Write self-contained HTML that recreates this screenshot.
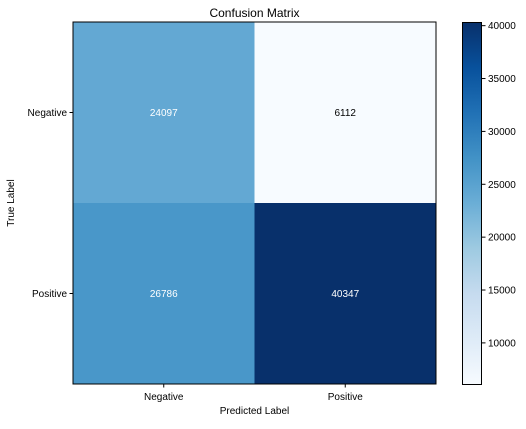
<!DOCTYPE html>
<html><head><meta charset="utf-8"><style>
html,body{margin:0;padding:0;background:#fff;}
svg text{font-family:"Liberation Sans",sans-serif;}
</style></head><body>
<svg id="chart" width="526" height="424" xmlns="http://www.w3.org/2000/svg">
<defs><linearGradient id="cbg" x1="0" y1="1" x2="0" y2="0">
<stop offset="0" stop-color="#f7fbff"/><stop offset="0.125" stop-color="#deebf7"/><stop offset="0.25" stop-color="#c6dbef"/><stop offset="0.375" stop-color="#9ecae1"/><stop offset="0.5" stop-color="#6baed6"/><stop offset="0.625" stop-color="#4292c6"/><stop offset="0.75" stop-color="#2171b5"/><stop offset="0.875" stop-color="#08519c"/><stop offset="1" stop-color="#08306b"/>
</linearGradient></defs>
<text x="254.5" y="17" font-size="12" text-anchor="middle" fill="#000">Confusion Matrix</text>
<g id="cells"></g>
<rect x="73" y="22" width="363" height="362" fill="none" stroke="#000" stroke-width="1"/>
<g id="axes"></g>
<text x="254.5" y="414" font-size="10" text-anchor="middle">Predicted Label</text>
<text x="14" y="203" font-size="10" text-anchor="middle" transform="rotate(-90 14 203)">True Label</text>
<rect x="462.5" y="22.5" width="19" height="362" fill="url(#cbg)" stroke="#000" stroke-width="1"/>
<g id="cbticks"></g>
</svg>
<script>
const labels = ["Negative","Positive"];
const row0 = [24097, 6112];
const row1 = [26786, 40347];
const cbTicks = [10000,15000,20000,25000,30000,35000,40000];
const matrix=[row0,row1];
const stops=["#f7fbff","#deebf7","#c6dbef","#9ecae1","#6baed6","#4292c6","#2171b5","#08519c","#08306b"];
const all=matrix.flat(), vmin=Math.min(...all), vmax=Math.max(...all);
const L=73,T=22,W=363,H=362, n=labels.length;
const ns="http://www.w3.org/2000/svg";
function hex(h){return [1,3,5].map(i=>parseInt(h.substr(i,2),16));}
function cmap(v){let t=(v-vmin)/(vmax-vmin);t=Math.max(0,Math.min(1,t))*(stops.length-1);
 const i=Math.min(Math.floor(t),stops.length-2),f=t-i,a=hex(stops[i]),b=hex(stops[i+1]);
 return "rgb("+a.map((x,k)=>Math.round(x+(b[k]-x)*f)).join(",")+")";}
function xs(j){return L+j*W/n;} function ys(i){return T+i*H/n;}
function cy(v){return T+H-(v-vmin)/(vmax-vmin)*H;}
function mk(tag,attrs,parent){const e=document.createElementNS(ns,tag);for(const k in attrs)e.setAttribute(k,attrs[k]);document.getElementById(parent).appendChild(e);return e;}
matrix.forEach((row,i)=>row.forEach((v,j)=>{
 const r=mk("rect",{x:xs(j),y:ys(i),width:W/n,height:H/n,fill:cmap(v)},"cells");
 
 
 const t=mk("text",{x:xs(j)+W/n/2,y:ys(i)+H/n/2+3.5,"font-size":10,"text-anchor":"middle",fill:v>(vmin+vmax)/2*0.9&&v>vmin+ (vmax-vmin)*0.3?"#fff":"#000"},"cells");
 t.textContent=v;
 
 
}));
labels.forEach((lb,k)=>{
 const cx=xs(k)+W/n/2;
 mk("line",{x1:cx,x2:cx,y1:T+H,y2:T+H+3.5,stroke:"#000"},"axes");
 const t=mk("text",{x:cx,y:T+H+16,"font-size":10,"text-anchor":"middle"},"axes");t.textContent=lb;
 
 
 const cyy=ys(k)+H/n/2;
 mk("line",{x1:L-3.5,x2:L,y1:cyy,y2:cyy,stroke:"#000"},"axes");
 const u=mk("text",{x:L-6,y:cyy+3.5,"font-size":10,"text-anchor":"end"},"axes");u.textContent=lb;
 
 
});
cbTicks.forEach(v=>{const y=cy(v);
 mk("line",{x1:482,x2:485.5,y1:y,y2:y,stroke:"#000"},"cbticks");
 const t=mk("text",{x:488,y:y+3.5,"font-size":10},"cbticks");t.textContent=v;
 
 
});
</script>
</body></html>
